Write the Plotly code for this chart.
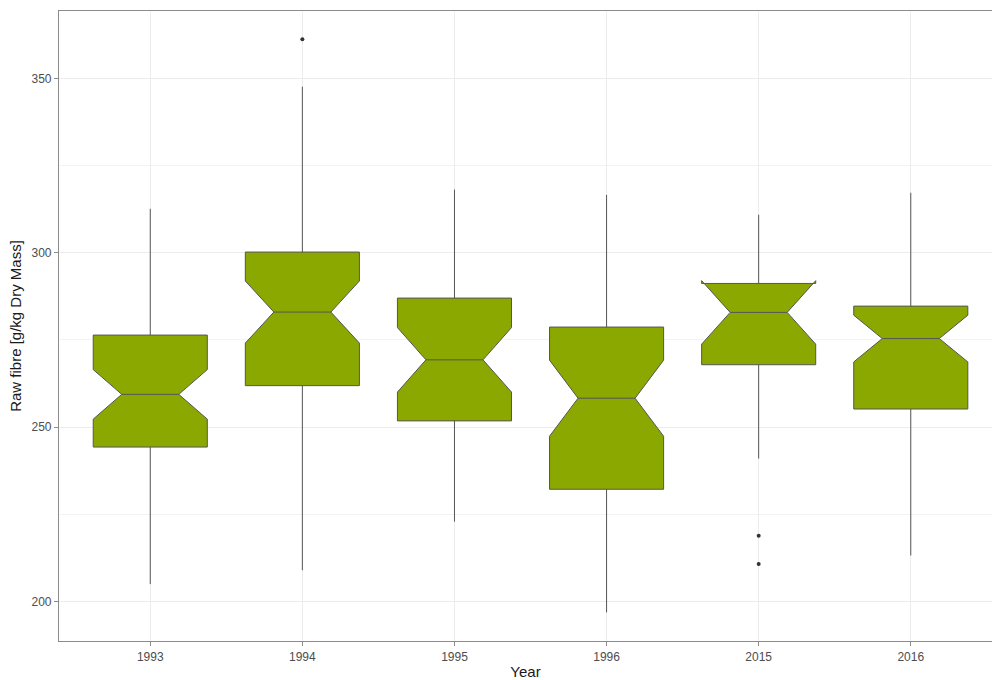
import plotly.graph_objects as go

years = ["1993", "1994", "1995", "1996", "2015", "2016"]
q1 = [244.3, 261.9, 251.8, 232.2, 267.9, 255.2]
median = [259.4, 283.0, 269.3, 258.3, 282.9, 275.4]
q3 = [276.4, 300.2, 287.0, 278.7, 291.2, 284.7]
lower_whisker = [205.0, 209.0, 222.9, 196.9, 241.0, 213.2]
upper_whisker = [312.6, 347.6, 318.1, 316.6, 310.9, 317.2]
notch_half = [7.1, 8.9, 9.25, 10.9, 9.1, 6.7]
outlier_x = ["1994", "2015", "2015"]
outlier_y = [361.2, 218.9, 210.8]

fig = go.Figure()
fig.add_trace(go.Box(
    x=years, q1=q1, median=median, q3=q3,
    lowerfence=lower_whisker, upperfence=upper_whisker,
    notchspan=notch_half, notched=True, notchwidth=0.25,
    width=0.75, whiskerwidth=0,
    fillcolor="rgb(138,168,0)",
    line=dict(color="#555555", width=1),
    boxpoints=False, showlegend=False,
))
fig.add_trace(go.Scatter(
    x=outlier_x, y=outlier_y, mode="markers",
    marker=dict(color="#333333", size=4), showlegend=False,
))

axis_common = dict(
    showline=True, linecolor="#8c8c8c", linewidth=1.2,
    ticks="outside", ticklen=4, tickcolor="#8c8c8c", tickwidth=1,
    tickfont=dict(family="Liberation Sans, Arial", size=12, color="#4d4d4d"),
    gridcolor="#ececec", gridwidth=1, zeroline=False,
)
fig.update_layout(
    width=992, height=680,
    margin=dict(l=59, r=0, t=11, b=39),
    paper_bgcolor="white", plot_bgcolor="white",
    xaxis=dict(
        type="category", categoryorder="array", categoryarray=years,
        range=[-0.6, 5.534], mirror=True,
        title=dict(text="Year", font=dict(family="Liberation Sans, Arial", size=15, color="#1a1a1a"), standoff=4),
        **axis_common,
    ),
    yaxis=dict(
        range=[188.7, 369.3], tickvals=[200, 250, 300, 350], mirror=False,
        minor=dict(tickvals=[225, 275, 325], showgrid=True, gridcolor="#f3f3f3", gridwidth=1, ticks=""),
        title=dict(text="Raw fibre [g/kg Dry Mass]", font=dict(family="Liberation Sans, Arial", size=15, color="#1a1a1a"), standoff=6),
        **axis_common,
    ),
)
fig.write_html("out.html")
